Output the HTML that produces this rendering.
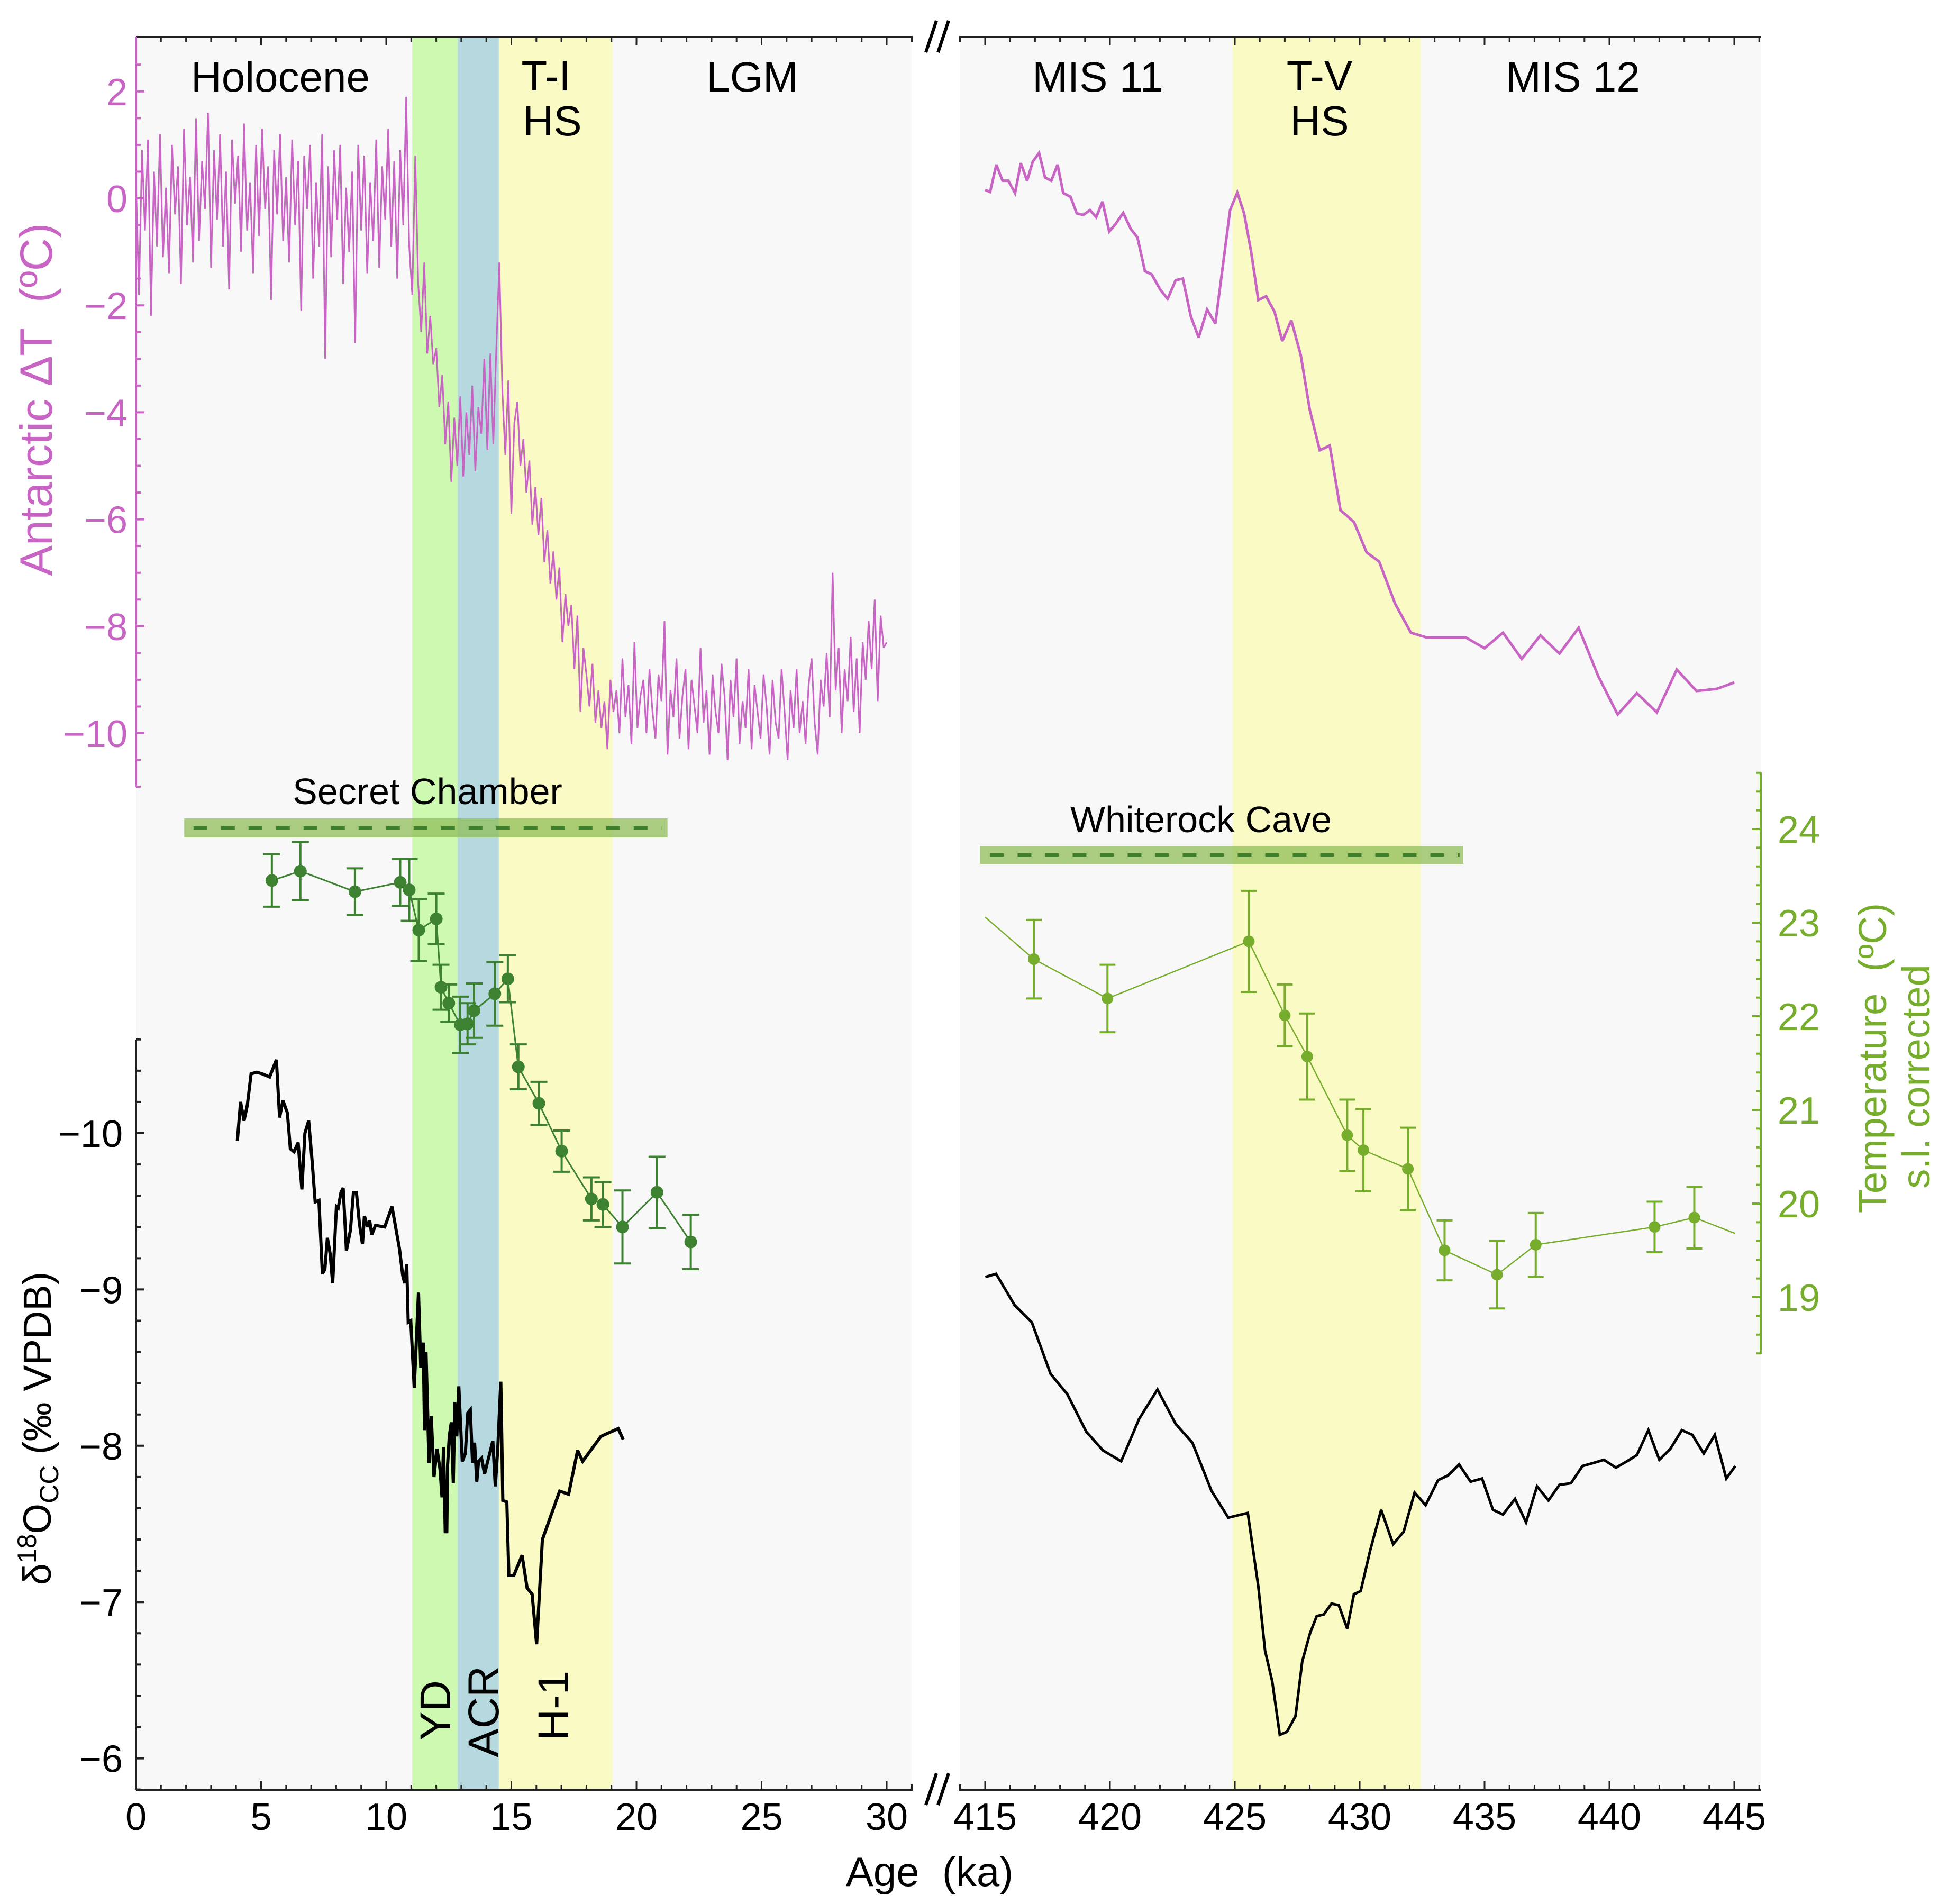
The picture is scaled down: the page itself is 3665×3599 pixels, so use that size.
<!DOCTYPE html>
<html><head><meta charset="utf-8"><style>
html,body{margin:0;padding:0;background:#fff;}
svg{display:block;font-family:"Liberation Sans",Arial,sans-serif;}
</style></head>
<body>
<svg id="chart" width="3665" height="3599" viewBox="0 0 3665 3599" xmlns="http://www.w3.org/2000/svg">
<g id="bg"></g><g id="bands"></g><g id="marks"></g><g id="axes"></g><g id="labels"></g>
</svg>
<script>
// ---------- DATA ----------
const dtLeftStep = 0.12;
const dtLeftVals = [
0.3,-1.8,0.9,-0.6,1.1,-2.2,0.5,-0.9,1.2,-1.1,
0.2,-1.4,1.0,-0.3,0.6,-1.6,1.3,-0.5,0.4,-1.2,
1.5,-0.8,0.7,-0.2,1.6,-1.3,0.9,-0.4,1.2,-0.9,
0.5,-1.7,1.1,-0.1,0.8,-1.0,1.4,-0.6,0.3,-1.4,
1.0,-0.7,1.3,-0.2,0.6,-1.9,0.9,-0.3,1.2,-0.8,
0.4,-1.2,1.1,-0.5,0.7,-2.1,0.8,-0.2,1.0,-1.5,
0.3,-0.9,1.2,-3.0,0.6,-1.1,0.9,-0.4,1.0,-1.6,
0.2,-1.0,0.5,-2.7,1.0,-0.6,0.8,-1.4,0.3,-0.8,
1.1,-1.3,0.6,-0.4,1.3,-0.9,0.7,-1.5,0.9,-0.5,
1.9,-0.9,-1.8,0.8,-1.6,-2.5,-1.2,-2.9,-2.2,-3.1,
-2.8,-3.9,-3.3,-4.6,-3.8,-5.3,-4.1,-5.0,-3.7,-5.2,
-4.0,-4.8,-3.5,-5.1,-3.9,-4.4,-3.0,-4.7,-2.9,-4.6,
-2.8,-1.2,-3.6,-4.8,-3.4,-5.9,-4.2,-3.8,-5.0,-4.5,
-5.5,-4.9,-6.1,-5.4,-6.3,-5.6,-6.8,-6.2,-7.2,-6.6,
-7.5,-6.9,-8.3,-7.4,-8.0,-7.6,-8.8,-7.8,-9.6,-8.4,
-8.9,-9.5,-8.7,-9.8,-9.2,-9.9,-9.4,-10.3,-9.0,-9.6,
-9.2,-10.0,-8.6,-9.7,-9.1,-10.2,-8.3,-9.9,-9.3,-9.0,
-10.0,-8.8,-9.6,-10.1,-8.9,-9.4,-7.9,-10.4,-9.2,-9.7,
-8.6,-10.1,-9.3,-8.8,-10.3,-9.0,-9.5,-10.0,-8.4,-9.8,
-9.2,-10.4,-8.9,-9.6,-10.0,-8.7,-9.3,-10.5,-9.0,-9.7,
-8.6,-10.2,-9.4,-9.9,-8.8,-10.3,-9.1,-9.6,-10.1,-8.9,
-9.5,-10.4,-9.0,-9.8,-10.1,-8.8,-9.6,-10.5,-9.2,-9.9,
-8.8,-10.0,-9.4,-10.2,-9.1,-8.6,-9.8,-10.4,-9.0,-9.5,
-8.5,-9.7,-7.0,-9.2,-8.4,-10.0,-8.8,-9.4,-8.2,-9.6,
-8.6,-10.0,-8.3,-9.0,-7.9,-8.8,-7.5,-9.4,-7.8,-8.4,
-8.3];

const dtRightAge = [415.0,415.2,415.45,415.7,415.93,416.2,416.43,416.68,416.91,417.16,417.4,417.65,417.9,418.13,418.42,418.67,418.93,419.2,419.45,419.7,419.97,420.24,420.53,420.83,421.1,421.4,421.67,422.02,422.31,422.63,422.92,423.24,423.55,423.89,424.22,424.81,425.1,425.37,425.65,425.94,426.25,426.59,426.9,427.26,427.64,428.0,428.4,428.8,429.23,429.77,430.28,430.78,431.42,432.05,432.68,434.25,435.0,435.74,436.49,437.24,438.0,438.77,439.55,440.33,441.1,441.9,442.7,443.49,444.3,445.0];
const dtRightVal = [0.16,0.12,0.63,0.33,0.33,0.1,0.66,0.33,0.69,0.85,0.39,0.33,0.63,0.1,0.03,-0.28,-0.31,-0.22,-0.35,-0.06,-0.62,-0.47,-0.27,-0.57,-0.73,-1.36,-1.42,-1.71,-1.88,-1.53,-1.5,-2.21,-2.6,-2.08,-2.34,-0.22,0.11,-0.28,-0.99,-1.9,-1.83,-2.12,-2.67,-2.28,-2.93,-3.95,-4.71,-4.62,-5.83,-6.05,-6.62,-6.79,-7.58,-8.12,-8.21,-8.21,-8.41,-8.12,-8.61,-8.17,-8.51,-8.03,-8.93,-9.65,-9.25,-9.61,-8.81,-9.21,-9.17,-9.05];

const d18LeftAge = [4.05,4.18,4.32,4.45,4.6,4.82,5.04,5.34,5.61,5.74,5.87,6.05,6.17,6.32,6.48,6.63,6.75,6.9,7.04,7.16,7.31,7.45,7.55,7.65,7.76,7.86,8.01,8.08,8.19,8.28,8.41,8.57,8.69,8.81,8.93,9.05,9.13,9.25,9.34,9.42,9.57,9.94,10.23,10.53,10.66,10.74,10.82,10.88,10.98,11.12,11.29,11.38,11.48,11.53,11.59,11.71,11.8,11.91,12.03,12.15,12.23,12.29,12.36,12.42,12.45,12.52,12.6,12.68,12.74,12.82,12.9,13.04,13.16,13.26,13.36,13.45,13.53,13.62,13.69,13.81,13.93,14.26,14.36,14.46,14.58,14.66,14.82,14.9,15.1,15.43,15.63,15.83,16.01,16.24,16.93,17.29,17.65,17.85,18.58,19.27,19.47];
const d18LeftVal = [-9.95,-10.2,-10.08,-10.18,-10.38,-10.39,-10.38,-10.36,-10.47,-10.1,-10.21,-10.13,-9.9,-9.88,-9.94,-9.64,-10.0,-10.08,-9.82,-9.56,-9.57,-9.1,-9.13,-9.33,-9.23,-9.04,-9.53,-9.52,-9.62,-9.65,-9.25,-9.38,-9.62,-9.62,-9.42,-9.29,-9.47,-9.4,-9.44,-9.35,-9.41,-9.4,-9.53,-9.26,-9.09,-9.04,-9.16,-8.79,-8.8,-8.37,-8.98,-8.5,-8.66,-8.1,-8.6,-7.89,-8.19,-7.8,-7.98,-7.85,-7.67,-7.99,-7.45,-7.45,-7.87,-8.06,-8.15,-7.76,-8.28,-8.06,-8.38,-7.9,-7.95,-8.21,-8.23,-7.89,-8.02,-7.77,-7.9,-7.92,-7.82,-8.03,-7.74,-7.99,-8.41,-7.65,-7.64,-7.17,-7.17,-7.3,-7.09,-7.05,-6.73,-7.4,-7.71,-7.69,-7.97,-7.9,-8.06,-8.11,-8.04];

const d18RightAge = [415.01,415.44,416.18,416.87,417.62,418.29,419.05,419.72,420.45,421.16,421.9,422.63,423.3,424.07,424.74,425.52,425.94,426.21,426.5,426.8,427.09,427.43,427.7,428.01,428.28,428.56,428.87,429.16,429.5,429.77,430.04,430.42,430.86,431.34,431.76,432.2,432.64,433.14,433.54,433.98,434.44,434.9,435.34,435.74,436.22,436.66,437.1,437.56,438.0,438.46,438.92,439.36,439.78,440.26,440.7,441.1,441.56,442.0,442.44,442.9,443.32,443.78,444.22,444.68,445.04];
const d18RightVal = [-9.08,-9.1,-8.9,-8.79,-8.46,-8.33,-8.09,-7.97,-7.9,-8.17,-8.36,-8.14,-8.02,-7.71,-7.54,-7.57,-7.1,-6.69,-6.49,-6.15,-6.17,-6.27,-6.62,-6.8,-6.91,-6.92,-6.99,-6.98,-6.83,-7.05,-7.07,-7.33,-7.59,-7.37,-7.45,-7.7,-7.62,-7.78,-7.81,-7.88,-7.77,-7.79,-7.59,-7.56,-7.66,-7.51,-7.74,-7.65,-7.75,-7.76,-7.87,-7.89,-7.91,-7.86,-7.9,-7.94,-8.1,-7.91,-7.98,-8.1,-8.07,-7.95,-8.07,-7.79,-7.87];

const tLeftAge = [5.43,6.57,8.75,10.56,10.92,11.30,12.0,12.19,12.50,12.96,13.25,13.51,14.34,14.86,15.28,16.1,17.01,18.2,18.66,19.44,20.82,22.17];
const tLeftVal = [23.45,23.55,23.33,23.43,23.35,22.92,23.04,22.31,22.14,21.91,21.92,22.06,22.24,22.40,21.46,21.07,20.56,20.05,19.99,19.75,20.12,19.59];
const tLeftErr = [0.28,0.31,0.25,0.25,0.33,0.33,0.27,0.24,0.2,0.3,0.22,0.29,0.34,0.25,0.24,0.23,0.22,0.23,0.24,0.39,0.38,0.29];

const tRightAge = [415.0,416.95,419.9,425.56,427.0,427.9,429.5,430.15,431.93,433.4,435.5,437.05,441.81,443.4,445.04];
const tRightVal = [23.06,22.61,22.19,22.80,22.01,21.57,20.73,20.57,20.37,19.50,19.24,19.56,19.75,19.85,19.68];
const tRightErr = [0,0.42,0.36,0.54,0.33,0.46,0.38,0.44,0.44,0.32,0.36,0.34,0.27,0.33,0];

const bandsLeft = [[11.04,12.85,'#cdf9b1','yd-band'],[12.85,14.5,'#b6d9df','acr-band'],[14.5,19.05,'#fafac4','t1-hs-band']];
const bandsRight = [[424.9,432.45,'#fafac4','t5-hs-band']];
const xTicksLeft = [0,5,10,15,20,25,30];
const xTicksRight = [415,420,425,430,435,440,445];
const dtTicks = [2,0,-2,-4,-6,-8,-10];
const d18Ticks = [-10,-9,-8,-7,-6];
const tTicks = [24,23,22,21,20,19];

// ---------- SCALES ----------
const TOP=70, BOT=3383;
const xL = a => 257 + a*47.3;
const xR = a => 1862 + (a-415)*47.2;
const yDT = v => 375 - v*101.1;
const yD18 = v => 2142 + (v+10)*295.4;
const yT = t => 1567 + (24-t)*177;

const NS='http://www.w3.org/2000/svg';
function mk(parent, tag, attrs, text){
  const e=document.createElementNS(NS,tag);
  for(const k in attrs) e.setAttribute(k,attrs[k]);
  if(text!==undefined) e.textContent=text;
  document.getElementById(parent).appendChild(e);
  return e;
}
let e;
e=mk('bg','rect',{x:257,y:TOP,width:1466,height:BOT-TOP,fill:'#f8f8f8'});


e=mk('bg','rect',{x:1815,y:TOP,width:1513,height:BOT-TOP,fill:'#f8f8f8'});


bandsLeft.forEach(b=>{
  e=mk('bands','rect',{x:xL(b[0]),y:TOP,width:xL(b[1])-xL(b[0]),height:BOT-TOP,fill:b[2]});
  
  
});
bandsRight.forEach(b=>{
  e=mk('bands','rect',{x:xR(b[0]),y:TOP,width:xR(b[1])-xR(b[0]),height:BOT-TOP,fill:b[2]});
  
  
});
e=mk('bands','rect',{x:xL(1.93),y:1547,width:xL(21.24)-xL(1.93),height:36,fill:'#8fbd5a',opacity:0.75});


e=mk('bands','line',{x1:xL(2.3),x2:xL(21.0),y1:1565,y2:1565,stroke:'#3d7f2c','stroke-width':6,'stroke-dasharray':'26 26'});


e=mk('bands','rect',{x:xR(414.8),y:1599,width:xR(434.15)-xR(414.8),height:34,fill:'#8fbd5a',opacity:0.75});


e=mk('bands','line',{x1:xR(415.2),x2:xR(434.0),y1:1616,y2:1616,stroke:'#3d7f2c','stroke-width':6,'stroke-dasharray':'26 26'});



function poly(pts,stroke,w){
  return mk('marks','polyline',{points:pts.map(q=>q[0].toFixed(1)+','+q[1].toFixed(1)).join(' '),fill:'none',stroke:stroke,'stroke-width':w,'stroke-linejoin':'miter','stroke-miterlimit':3});
}
e=poly(dtLeftVals.map((v,i)=>[xL(i*dtLeftStep),yDT(v)]),'#c864c4',3);


e=poly(dtRightAge.map((a,i)=>[xR(a),yDT(dtRightVal[i])]),'#c864c4',5);


e=poly(d18LeftAge.map((a,i)=>[xL(a),yD18(d18LeftVal[i])]),'#000',6);


e=poly(d18RightAge.map((a,i)=>[xR(a),yD18(d18RightVal[i])]),'#000',5);


function tSeries(ages,vals,errs,xf,col,lw,r,cap,name,skipEnds){
  e=poly(ages.map((a,i)=>[xf(a),yT(vals[i])]),col,lw);
  
  
  ages.forEach((a,i)=>{
    if(skipEnds && (i===0||i===ages.length-1)) return;
    const x=xf(a), y=yT(vals[i]), y1=yT(vals[i]+errs[i]), y2=yT(vals[i]-errs[i]);
    const g=mk('marks','path',{d:`M${x},${y1}V${y2}M${x-cap},${y1}H${x+cap}M${x-cap},${y2}H${x+cap}`,stroke:col,'stroke-width':4,fill:'none'});
    
    
    const c=mk('marks','circle',{cx:x,cy:y,r:r,fill:col});
    
    
  });
}
tSeries(tLeftAge,tLeftVal,tLeftErr,xL,'#3d8230',3,12,16,'secret-chamber-temp',false);
tSeries(tRightAge,tRightVal,tRightErr,xR,'#77ad2c',2.5,11,15,'whiterock-temp',true);

function ax(tag,attrs,name){const a=mk('axes',tag,attrs);return a;}
ax('path',{d:`M257,${TOP}H1723V${TOP+10}M1815,${TOP+10}V${TOP}H3328`,stroke:'#222',fill:'none','stroke-width':4},'top-spine');
ax('path',{d:`M257,${BOT}H1723V${BOT-10}M1815,${BOT-10}V${BOT}H3328`,stroke:'#222',fill:'none','stroke-width':4},'x-axis-spine');
let td='';
for(let a=0;a<=31;a++){const L=a%5===0?16:9;td+=`M${xL(a)},${BOT}V${BOT-L}M${xL(a)},${TOP}V${TOP+L}`;}
for(let a=414;a<=446;a++){const L=a%5===0?16:9;td+=`M${xR(a)},${BOT}V${BOT-L}M${xR(a)},${TOP}V${TOP+L}`;}
ax('path',{d:td,stroke:'#222','stroke-width':3,fill:'none'},'x-axis-ticks');
ax('path',{d:'M1750,99L1770,39M1773,99L1793,39M1750,3412L1770,3352M1773,3412L1793,3352',stroke:'#000','stroke-width':6,fill:'none'},'axis-break-marks');
let dd='';
for(let v=2.5;v>=-11;v-=0.5){const L=Math.abs(v%2)<1e-6?16:9;dd+=`M257,${yDT(v)}H${257+L}`;}
ax('path',{d:`M257,${TOP}V1488`+dd,stroke:'#c864c4','stroke-width':4,fill:'none'},'dt-axis');
let d8='';
for(let v=-10.6;v<=-5.8;v+=0.2){const L=Math.abs(v-Math.round(v))<1e-6?16:9;d8+=`M257,${yD18(v)}H${257+L}`;}
ax('path',{d:`M257,1965V${BOT}`+d8,stroke:'#222','stroke-width':4,fill:'none'},'d18o-axis');
let dtt='';
for(let t=24.6;t>=18.4;t-=0.2){const r=Math.round(t*10)/10;const L=Math.abs(r-Math.round(r))<1e-6?16:8;dtt+=`M3328,${yT(r)}H${3328-L}`;}
ax('path',{d:`M3328,1460V2559`+dtt,stroke:'#77ad2c','stroke-width':4,fill:'none'},'temperature-axis');

function tx(attrs,text,name){const t=mk('labels','text',attrs,text);return t;}
xTicksLeft.forEach(v=>tx({x:xL(v),y:3459,'font-size':72,'text-anchor':'middle'},String(v),'x-tick-label'));
xTicksRight.forEach(v=>tx({x:xR(v),y:3459,'font-size':72,'text-anchor':'middle'},String(v),'x-tick-label'));
dtTicks.forEach(v=>tx({x:241,y:yDT(v)+26,'font-size':72,'text-anchor':'end',fill:'#c864c4'},(v<0?'\u2212':'')+Math.abs(v),'dt-tick-label'));
d18Ticks.forEach(v=>tx({x:232,y:yD18(v)+26,'font-size':72,'text-anchor':'end'},'\u2212'+Math.abs(v),'d18o-tick-label'));
tTicks.forEach(v=>tx({x:3440,y:yT(v)+26,'font-size':72,'text-anchor':'end',fill:'#77ad2c'},String(v),'temperature-tick-label'));
tx({x:1757,y:3565,'font-size':78,'text-anchor':'middle'},'Age\u00a0 (ka)','x-axis-title');
tx({x:0,y:0,'font-size':86,'text-anchor':'middle',fill:'#c864c4',transform:'translate(98,755) rotate(-90)'},'Antarctic \u0394T\u00a0 (\u00baC)','dt-axis-title');
const d18t=tx({x:0,y:0,'font-size':74,'text-anchor':'middle',transform:'translate(96,2700) rotate(-90)'},'','d18o-axis-title');
d18t.innerHTML='\u03b4<tspan font-size="50" dy="-28">18</tspan><tspan dy="28">O</tspan><tspan font-size="50" dy="14">CC</tspan><tspan dy="-14"> (\u2030 VPDB)</tspan>';
tx({x:0,y:0,'font-size':74,'text-anchor':'middle',fill:'#77ad2c',transform:'translate(3565,2000) rotate(-90)'},'Temperature\u00a0 (\u00baC)','temperature-axis-title');
tx({x:0,y:0,'font-size':74,'text-anchor':'middle',fill:'#77ad2c',transform:'translate(3647,2035) rotate(-90)'},'s.l. corrected','temperature-axis-subtitle');
tx({x:530,y:173,'font-size':80,'text-anchor':'middle'},'Holocene','holocene-label');
tx({x:1032,y:171,'font-size':80,'text-anchor':'middle'},'T-I','t1-label');
tx({x:1044,y:256,'font-size':80,'text-anchor':'middle'},'HS','t1-hs-label');
tx({x:1422,y:173,'font-size':80,'text-anchor':'middle'},'LGM','lgm-label');
tx({x:2075,y:173,'font-size':80,'text-anchor':'middle'},'MIS 11','mis11-label');
tx({x:2494,y:171,'font-size':80,'text-anchor':'middle'},'T-V','t5-label');
tx({x:2494,y:256,'font-size':80,'text-anchor':'middle'},'HS','t5-hs-label');
tx({x:2973,y:173,'font-size':80,'text-anchor':'middle'},'MIS 12','mis12-label');
tx({x:808,y:1520,'font-size':70,'text-anchor':'middle'},'Secret Chamber','secret-chamber-label');
tx({x:2270,y:1573,'font-size':70,'text-anchor':'middle'},'Whiterock Cave','whiterock-cave-label');
tx({x:0,y:0,'font-size':82,transform:'translate(851,3290) rotate(-90)'},'YD','yd-label');
tx({x:0,y:0,'font-size':82,transform:'translate(942,3322) rotate(-90)'},'ACR','acr-label');
tx({x:0,y:0,'font-size':82,transform:'translate(1074,3290) rotate(-90)'},'H-1','h1-label');
</script>
</body></html>
